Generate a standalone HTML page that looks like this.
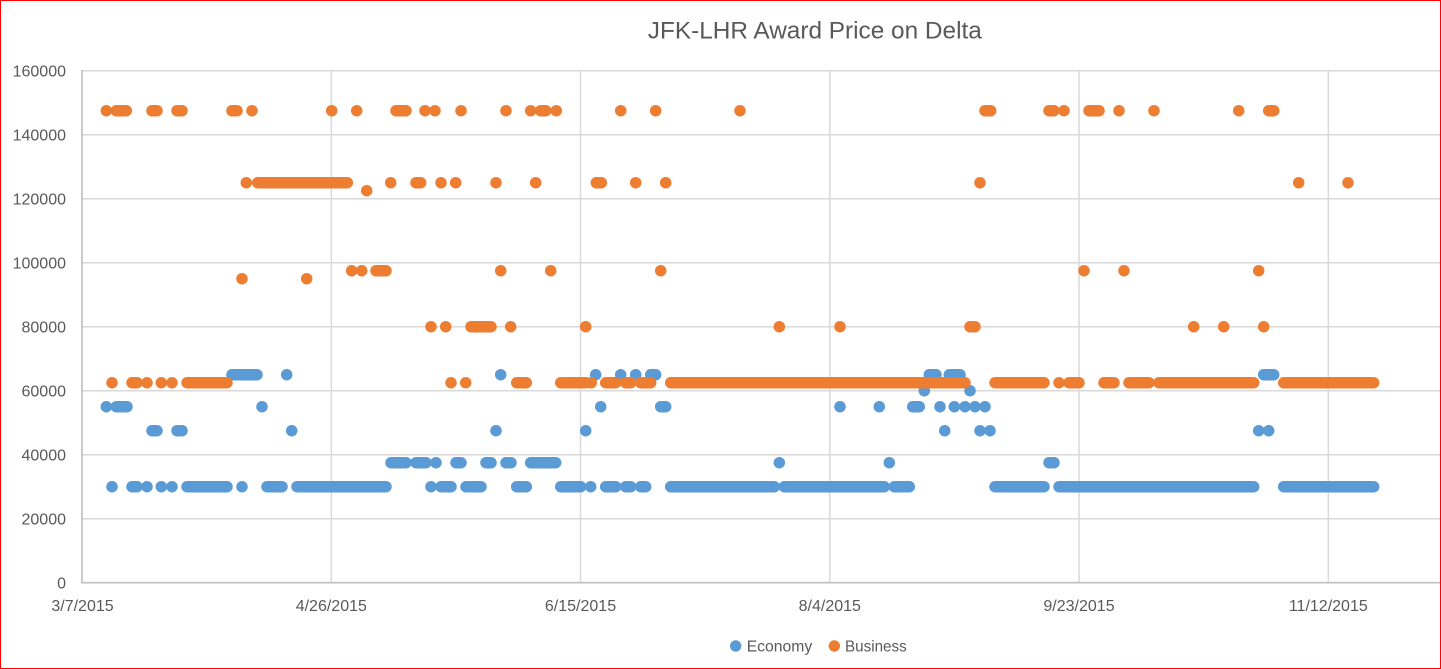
<!DOCTYPE html>
<html>
<head>
<meta charset="utf-8">
<style>
  html, body { margin: 0; padding: 0; background: #fff; }
  svg { display: block; }
  text { font-family: "Liberation Sans", Arial, sans-serif; fill: #595959; }
</style>
</head>
<body>
<svg width="1441" height="669" viewBox="0 0 1441 669" xmlns="http://www.w3.org/2000/svg">
  <rect x="0" y="0" width="1441" height="669" fill="#ffffff"/>

  <!-- horizontal gridlines -->
  <g stroke="#d9d9d9" stroke-width="1.5">
    <line x1="82" y1="70.7" x2="1440" y2="70.7"/>
    <line x1="82" y1="134.7" x2="1440" y2="134.7"/>
    <line x1="82" y1="198.7" x2="1440" y2="198.7"/>
    <line x1="82" y1="262.7" x2="1440" y2="262.7"/>
    <line x1="82" y1="326.7" x2="1440" y2="326.7"/>
    <line x1="82" y1="390.7" x2="1440" y2="390.7"/>
    <line x1="82" y1="454.7" x2="1440" y2="454.7"/>
    <line x1="82" y1="518.7" x2="1440" y2="518.7"/>
    <!-- vertical gridlines -->
    <line x1="331.3" y1="70.7" x2="331.3" y2="582.7"/>
    <line x1="580.5" y1="70.7" x2="580.5" y2="582.7"/>
    <line x1="829.8" y1="70.7" x2="829.8" y2="582.7"/>
    <line x1="1079" y1="70.7" x2="1079" y2="582.7"/>
    <line x1="1328.3" y1="70.7" x2="1328.3" y2="582.7"/>
  </g>
  <!-- axes -->
  <g stroke="#bfbfbf" stroke-width="1.6">
    <line x1="82" y1="70" x2="82" y2="583"/>
    <line x1="81.2" y1="582.7" x2="1440" y2="582.7"/>
  </g>

  <!-- title -->
  <text x="814.8" y="38.3" font-size="24" text-anchor="middle" textLength="334" lengthAdjust="spacingAndGlyphs">JFK-LHR Award Price on Delta</text>

  <!-- y labels -->
  <g font-size="16" text-anchor="end">
    <text x="66" y="76.3">160000</text>
    <text x="66" y="140.3">140000</text>
    <text x="66" y="204.3">120000</text>
    <text x="66" y="268.3">100000</text>
    <text x="66" y="332.3">80000</text>
    <text x="66" y="396.3">60000</text>
    <text x="66" y="460.3">40000</text>
    <text x="66" y="524.3">20000</text>
    <text x="66" y="588.3">0</text>
  </g>

  <!-- x labels -->
  <g font-size="16" text-anchor="middle">
    <text x="82.5" y="611">3/7/2015</text>
    <text x="331.3" y="611">4/26/2015</text>
    <text x="580.5" y="611">6/15/2015</text>
    <text x="829.8" y="611">8/4/2015</text>
    <text x="1079" y="611">9/23/2015</text>
    <text x="1328.3" y="611">11/12/2015</text>
  </g>

  <!-- Economy series -->
  <path fill="none" stroke="#5b9bd5" stroke-width="11.5" stroke-linecap="round" d="
    M232,374.7H257 M286.7,374.7h.01 M500.7,374.7h.01 M595.7,374.7h.01 M620.7,374.7h.01 M635.7,374.7h.01 M650.7,374.7H655.7 M929.3,374.7H936 M949.3,374.7H960 M1263.7,374.7H1273.7
    M924.3,390.7h.01 M970,390.7h.01
    M106.3,406.7h.01 M116.3,406.7H127 M262,406.7h.01 M600.7,406.7h.01 M660.7,406.7H665.7 M840,406.7h.01 M879.3,406.7h.01 M912.7,406.7H919.3 M940,406.7h.01 M954.3,406.7h.01 M965,406.7h.01 M975,406.7h.01 M985,406.7h.01
    M152,430.7H157 M177,430.7H182 M291.7,430.7h.01 M496,430.7h.01 M585.7,430.7h.01 M944.7,430.7h.01 M980,430.7h.01 M990,430.7h.01 M1258.7,430.7h.01 M1268.7,430.7h.01
    M391,462.7H406 M416,462.7H426 M436,462.7h.01 M456,462.7H461 M486,462.7H491 M506,462.7H511 M530.7,462.7H555.7 M779.3,462.7h.01 M889.3,462.7h.01 M1049,462.7H1054
    M112,486.7h.01 M132,486.7H137 M147,486.7h.01 M161.3,486.7h.01 M172,486.7h.01 M187,486.7H227 M242,486.7h.01 M267,486.7H282 M297,486.7H386 M431,486.7h.01 M441,486.7H451 M466,486.7H481 M516.7,486.7H526.3 M560.7,486.7H580.7 M590.7,486.7h.01 M605.7,486.7H615.7 M625.7,486.7H630.7 M640.7,486.7H645.7 M670.7,486.7H774.3 M784.3,486.7H884.3 M894.3,486.7H909.3 M995,486.7H1044 M1059,486.7H1253.7 M1283.7,486.7H1373.7
  "/>

  <!-- Business series -->
  <path fill="none" stroke="#ed7d31" stroke-width="11.5" stroke-linecap="round" d="
    M106.3,110.7h.01 M116.3,110.7H126.3 M152,110.7H157 M177,110.7H182 M232,110.7H237 M252,110.7h.01 M331.7,110.7h.01 M356.7,110.7h.01 M396,110.7H406 M425,110.7h.01 M435,110.7h.01 M461,110.7h.01 M506,110.7h.01 M530.7,110.7h.01 M540.7,110.7H545.7 M556.3,110.7h.01 M620.7,110.7h.01 M655.7,110.7h.01 M740,110.7h.01 M985,110.7H990.7 M1049,110.7H1054 M1064,110.7h.01 M1089,110.7H1099 M1119,110.7h.01 M1154,110.7h.01 M1238.7,110.7h.01 M1268.7,110.7H1273.7
    M246.3,182.7h.01 M257.7,182.7H347.3 M390.7,182.7h.01 M416,182.7H420.7 M441,182.7h.01 M455.7,182.7h.01 M496,182.7h.01 M535.7,182.7h.01 M596.3,182.7H601.3 M635.7,182.7h.01 M665.7,182.7h.01 M980,182.7h.01 M1298.7,182.7h.01 M1348,182.7h.01
    M366.7,190.7h.01
    M351.7,270.7h.01 M361.7,270.7h.01 M376,270.7H386 M500.7,270.7h.01 M550.7,270.7h.01 M660.7,270.7h.01 M1084,270.7h.01 M1124,270.7h.01 M1258.7,270.7h.01
    M242,278.7h.01 M306.7,278.7h.01
    M431,326.7h.01 M445.7,326.7h.01 M471,326.7H491 M510.7,326.7h.01 M585.7,326.7h.01 M779.3,326.7h.01 M840,326.7h.01 M970,326.7H975 M1193.7,326.7h.01 M1223.7,326.7h.01 M1263.7,326.7h.01
    M112,382.7h.01 M132,382.7H137 M147,382.7h.01 M161.3,382.7h.01 M172,382.7h.01 M187,382.7H227 M451,382.7h.01 M465.7,382.7h.01 M516.7,382.7H526.3 M560.7,382.7H585.7 M591.3,382.7h.01 M605.7,382.7H615.7 M625.7,382.7H630.7 M640.7,382.7H650.7 M670.7,382.7H965 M995,382.7H1044 M1059,382.7h.01 M1069,382.7H1079 M1104,382.7H1114 M1129,382.7H1149 M1159,382.7H1253.7 M1283.7,382.7H1373.7
  "/>

  <!-- legend -->
  <circle cx="735.7" cy="646" r="5.7" fill="#5b9bd5"/>
  <text x="746.7" y="651.7" font-size="16" textLength="65.6" lengthAdjust="spacingAndGlyphs">Economy</text>
  <circle cx="834.3" cy="646" r="5.7" fill="#ed7d31"/>
  <text x="845" y="651.7" font-size="16" textLength="61.7" lengthAdjust="spacingAndGlyphs">Business</text>

  <!-- red border -->
  <rect x="0.5" y="0.5" width="1440" height="668" fill="none" stroke="#ff0000" stroke-width="1"/>
</svg>
</body>
</html>
